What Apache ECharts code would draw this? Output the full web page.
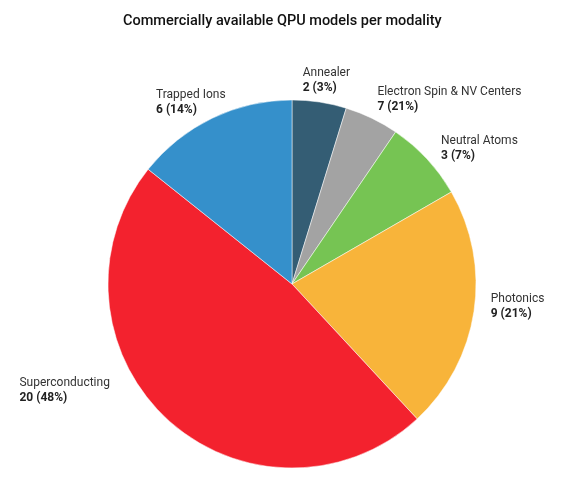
<!DOCTYPE html>
<html>
<head>
<meta charset="utf-8">
<script src="https://cdn.jsdelivr.net/npm/echarts@6/dist/echarts.min.js"></script>
<style>
  html, body { margin: 0; padding: 0; background: #fff; }
  #chart { width: 572px; height: 478px; }
</style>
</head>
<body>
<div id="chart"></div>
<script>
// slices, clockwise from 12 o'clock
const modalities = ['Annealer', 'Electron Spin & NV Centers', 'Neutral Atoms', 'Photonics', 'Superconducting', 'Trapped Ions'];
const models = [2, 2, 3, 9, 20, 6];
// the numbers printed in the labels (as shown in the source)
const shownCounts = [2, 7, 3, 9, 20, 6];
const shownPcts = [3, 21, 7, 21, 48, 14];
const colors = ['#345d74', '#a3a3a3', '#76c453', '#f8b43a', '#f3222e', '#3590cb'];

// small hand nudges so labels sit where the source put them
const labelNudge = {
  'Annealer': [-16, 0],
  'Electron Spin & NV Centers': [0, 1],
  'Neutral Atoms': [2, 5],
  'Photonics': [-1, -8],
  'Superconducting': [-46, -45],
  'Trapped Ions': [19, 4]
};

let chart = echarts.init(document.getElementById('chart'));

let option = {
  title: {
    text: 'Commercially available QPU models per modality',
    left: 118,
    top: 9,
    textStyle: {
      fontFamily: 'Roboto',
      fontSize: 14.5,
      fontWeight: 500,
      color: '#111'
    }
  },
  series: [{
    type: 'pie',
    center: [292, 284],
    radius: 184,
    startAngle: 90,
    clockwise: true,
    avoidLabelOverlap: false,
    itemStyle: {
      borderColor: '#fff',
      borderWidth: 0.5
    },
    label: {
      show: true,
      position: 'outside',
      distanceToLabelLine: -4,
      formatter: function (p) {
        let i = p.dataIndex;
        return '{n|' + p.name + '}\n{v|' + shownCounts[i] + ' (' + shownPcts[i] + '%)}';
      },
      rich: {
        n: { fontFamily: 'Roboto', fontSize: 12, color: '#333', align: 'left', lineHeight: 15 },
        v: { fontFamily: 'Roboto', fontSize: 12, fontWeight: 'bold', color: '#222', align: 'left', lineHeight: 15 }
      }
    },
    labelLine: { show: false, length: 22, length2: 0 },
    labelLayout: function (params) {
      let n = labelNudge[modalities[params.dataIndex]] || [0, 0];
      return { dx: n[0], dy: n[1] };
    },
    emphasis: { disabled: true },
    data: modalities.map((m, i) => ({
      name: m,
      value: models[i],
      itemStyle: { color: colors[i] }
    }))
  }]
};

chart.setOption(option);
window.addEventListener('resize', function () {
  chart.resize();
});
</script>
</body>
</html>
